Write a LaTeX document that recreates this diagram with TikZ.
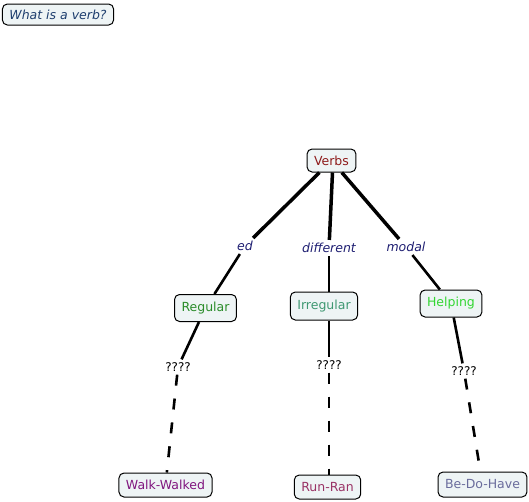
\documentclass[tikz,border=0pt]{standalone}
\usepackage{fontspec}
\setmainfont{DejaVu Sans}
\definecolor{boxfill}{HTML}{EEF4F5}
\definecolor{cverbs}{HTML}{8E1B1B}
\definecolor{creg}{HTML}{2A8C2A}
\definecolor{cirr}{HTML}{3F9872}
\definecolor{chelp}{HTML}{33D633}
\definecolor{cwalk}{HTML}{80167F}
\definecolor{crun}{HTML}{993366}
\definecolor{cbe}{HTML}{6A6C9C}
\definecolor{clink}{HTML}{1F1F72}
\definecolor{ctitle}{HTML}{1E3E6E}
\begin{document}
\begin{tikzpicture}[x=1pt,y=-1pt,
  concept/.style={draw=black,line width=1pt,rounded corners=5pt,fill=boxfill,
    inner xsep=7pt,inner ysep=0pt,minimum height=25pt,
    font=\fontsize{12.5}{14}\selectfont},
  linklabel/.style={inner sep=3pt,font=\fontsize{12.5}{14}\selectfont\itshape,text=clink},
  qlabel/.style={inner sep=3pt,font=\fontsize{12}{14}\selectfont,text=black},
  upper/.style={line width=3.5pt},
  lower/.style={line width=2.6pt},
  dashlink/.style={line width=2.6pt,dash pattern=on 11pt off 13pt}]
\useasboundingbox (0,0) rectangle (529,501);
\node[concept,minimum height=21pt,text=ctitle,font=\fontsize{12.5}{14}\selectfont\itshape] (title) at (58,14.5) {What is a verb?};
\node[concept,minimum height=23pt,text=cverbs] (verbs) at (331.5,160.5) {Verbs};
\node[concept,minimum height=27pt,text=creg] (regular) at (205.5,308) {Regular};
\node[concept,minimum height=28pt,text=cirr] (irregular) at (324,306) {Irregular};
\node[concept,minimum height=27pt,text=chelp] (helping) at (451,303.5) {Helping};
\node[concept,minimum height=24pt,text=cwalk] (walk) at (165.5,485) {Walk-Walked};
\node[concept,minimum height=24pt,text=crun] (run) at (327.5,487) {Run-Ran};
\node[concept,minimum height=25pt,text=cbe] (be) at (482.5,484.5) {Be-Do-Have};
\node[linklabel] (ed) at (245,246) {ed};
\node[linklabel] (diff) at (329,248) {different};
\node[linklabel] (modal) at (406,247) {modal};
\node[qlabel] (q1) at (178,367) {????};
\node[qlabel] (q2) at (329,365) {????};
\node[qlabel] (q3) at (464,371) {????};
\draw[upper] (verbs) -- (ed);
\draw[lower] (ed) -- (regular);
\draw[upper] ([xshift=1pt]verbs.south) -- (diff);
\draw[lower] (diff) -- (diff |- irregular.north);
\draw[upper] (verbs) -- (modal);
\draw[lower] (modal) -- (helping);
\draw[lower] (regular) -- (q1);
\draw[dashlink] (q1) -- (walk);
\draw[lower] (q2 |- irregular.south) -- (q2);
\draw[dashlink] (q2) -- (q2 |- run.north);
\draw[lower] (helping) -- (q3);
\draw[dashlink] (q3) -- (be);
\end{tikzpicture}
\end{document}
